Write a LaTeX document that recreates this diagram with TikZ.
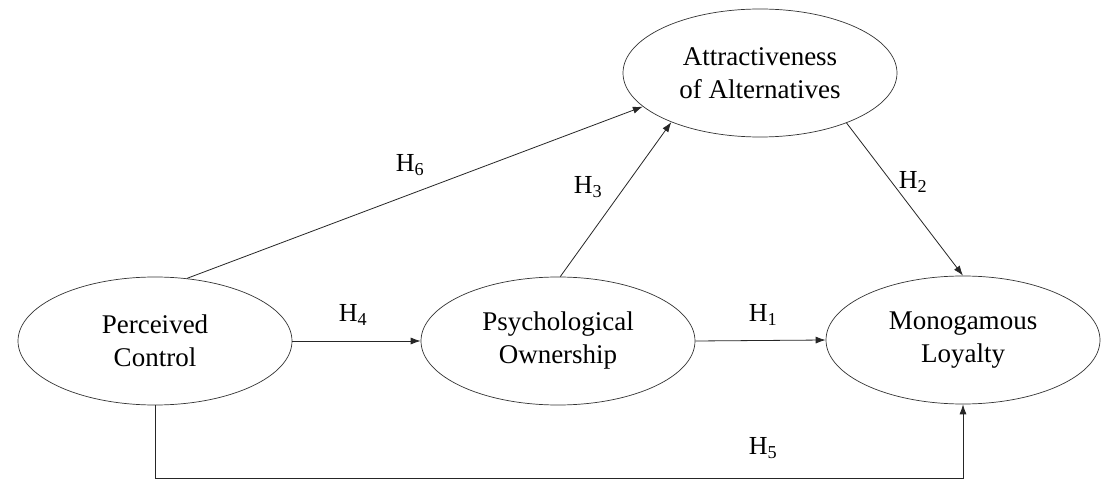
\documentclass[tikz,border=0pt]{standalone}
\usepackage{fontspec}
\setmainfont{Liberation Serif}
\usetikzlibrary{shapes.geometric,arrows.meta}
\newcommand{\hyp}[1]{H\textsubscript{#1}}
\begin{document}
\begin{tikzpicture}[x=1pt,y=-1pt,
  construct/.style={draw=black!80,line width=0.7pt,ellipse,minimum width=274pt,minimum height=128pt,inner sep=0pt,align=center,font=\fontsize{27}{33}\selectfont},
  path/.style={draw=black!85,line width=0.8pt,-{Latex[length=10pt,width=7pt]}},
  hlabel/.style={font=\fontsize{26}{30}\selectfont,inner sep=0pt}]
\path[use as bounding box,fill=white] (0,0) rectangle (1104,494);
\node[construct] (pc) at (155,341) {Perceived\\Control};
\node[construct] (po) at (558,341) {Psychological\\Ownership};
\node[construct] (ml) at (963,340) {Monogamous\\Loyalty};
\node[construct] (aa) at (760,73) {Attractiveness\\of Alternatives};
\draw[path] (pc.east) -- (po.west);
\draw[path] (po.east) -- (ml.west);
\draw[path] (aa.-30) -- (ml.north);
\draw[path] (pc.63) -- (aa.196);
\draw[path] (po.88) -- (aa.209);
\draw[path] (pc.south) -- ++(0,73) coordinate (c1) -| (ml.south);
\node[hlabel] (h4) at (353,315) {\hyp{4}};
\node[hlabel] (h1) at (763,315) {\hyp{1}};
\node[hlabel] (h5) at (763,448) {\hyp{5}};
\node[hlabel] (h6) at (410,165) {\hyp{6}};
\node[hlabel] (h3) at (588,187) {\hyp{3}};
\node[hlabel] (h2) at (913,182) {\hyp{2}};
\end{tikzpicture}
\end{document}
